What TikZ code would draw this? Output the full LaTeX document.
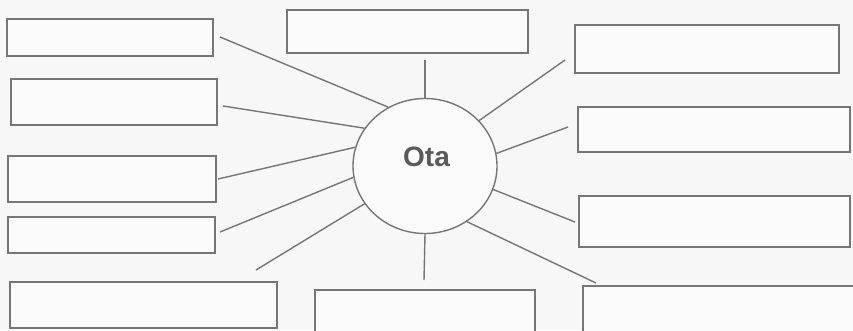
\documentclass[tikz,border=0pt]{standalone}
\usepackage{fontspec}
\newfontfamily\labfont{Liberation Sans}
\usetikzlibrary{shapes.geometric}
\definecolor{edgegray}{HTML}{767676}
\definecolor{textgray}{HTML}{5A5A5A}
\definecolor{paper}{HTML}{F7F7F7}
\tikzset{
  box/.style={draw=edgegray, line width=1.4pt, fill=paper!60!white, rectangle, inner sep=0pt},
  hub/.style={draw=edgegray, line width=1.4pt, fill=paper!60!white, ellipse, inner sep=0pt,
              minimum width=144pt, minimum height=135pt},
  spoke/.style={draw=edgegray, line width=1.4pt}
}
\begin{document}
\begin{tikzpicture}[x=1pt,y=-1pt]
\clip (0,0) rectangle (853,330);
\fill[paper] (0,0) rectangle (853,330);
% boxes
\node[box, minimum width=206pt, minimum height=37pt] (bL1) at (110,37.5) {};
\node[box, minimum width=206pt, minimum height=46pt] (bL2) at (114,102) {};
\node[box, minimum width=208pt, minimum height=46pt] (bL3) at (112,179) {};
\node[box, minimum width=207pt, minimum height=36pt] (bL4) at (111.5,235) {};
\node[box, minimum width=267pt, minimum height=46pt] (bL5) at (143.5,305) {};
\node[box, minimum width=241pt, minimum height=43pt] (bT) at (407.5,31.5) {};
\node[box, minimum width=264pt, minimum height=48pt] (bR1) at (707,49) {};
\node[box, minimum width=272pt, minimum height=45pt] (bR2) at (714,129.5) {};
\node[box, minimum width=271pt, minimum height=51pt] (bR3) at (714.5,221.5) {};
\node[box, minimum width=277pt, minimum height=54pt] (bR4) at (721.5,313) {};
\node[box, minimum width=220pt, minimum height=50pt] (bBM) at (425,315) {};
% hub
\node[hub] (c) at (425,166) {};
\node[text=textgray, font=\labfont\bfseries\fontsize{28}{32}\selectfont] (lab) at (426.5,157) {Ota};
% free ends of spokes
\coordinate (eL1) at (220,37);
\coordinate (eL2) at (223,106);
\coordinate (eL3) at (218,179);
\coordinate (eL4) at (220,232);
\coordinate (eL5) at (256,270);
\coordinate (eT) at (425,60);
\coordinate (eB) at (424,280);
\coordinate (eR1) at (565,60);
\coordinate (eR2) at (568,127);
\coordinate (eR3) at (575,222);
\coordinate (eR4) at (596,283);
% spokes
\draw[spoke] (c.122) -- (eL1);
\draw[spoke] (c.148) -- (eL2);
\draw[spoke] (c.165) -- (eL3);
\draw[spoke] (c.189) -- (eL4);
\draw[spoke] (c.212) -- (eL5);
\draw[spoke] (c.90) -- (eT);
\draw[spoke] (c.270) -- (eB);
\draw[spoke] (c.40) -- (eR1);
\draw[spoke] (c.10) -- (eR2);
\draw[spoke] (c.341) -- (eR3);
\draw[spoke] (c.307) -- (eR4);
\end{tikzpicture}
\end{document}
